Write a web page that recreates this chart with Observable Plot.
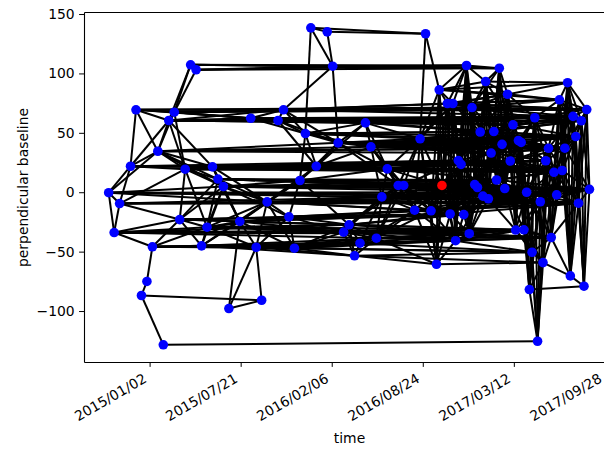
<!DOCTYPE html>
<html>
<head>
<meta charset="utf-8">
<script src="https://cdn.jsdelivr.net/npm/d3@7"></script>
<script src="https://cdn.jsdelivr.net/npm/@observablehq/plot@0.6"></script>
<style>
  html, body { margin: 0; padding: 0; background: #ffffff; }
  #chart { width: 604px; height: 449px; overflow: hidden; }
</style>
</head>
<body>
<div id="chart"></div>
<script>
// Acquisition dates (time order)
const dates = [
"2014-10-03","2014-10-15","2014-10-27","2014-11-20","2014-12-02","2014-12-14","2014-12-26","2015-01-07","2015-01-19","2015-01-31",
"2015-02-12","2015-02-24","2015-03-08","2015-03-20","2015-04-01","2015-04-13","2015-04-25","2015-05-07","2015-05-19","2015-05-31",
"2015-06-12","2015-06-24","2015-07-18","2015-08-11","2015-08-23","2015-09-04","2015-09-16","2015-10-10","2015-10-22","2015-11-03",
"2015-11-15","2015-11-27","2015-12-09","2015-12-21","2016-01-02","2016-01-26","2016-02-07","2016-02-19","2016-03-02","2016-03-14",
"2016-03-26","2016-04-07","2016-04-19","2016-05-01","2016-05-13","2016-05-25","2016-06-06","2016-06-30","2016-07-12","2016-08-05",
"2016-08-17","2016-08-29","2016-09-10","2016-09-22","2016-09-28","2016-10-04","2016-10-16","2016-10-22","2016-10-28","2016-11-03",
"2016-11-09","2016-11-15","2016-11-21","2016-11-27","2016-12-03","2016-12-09","2016-12-15","2016-12-21","2016-12-27","2017-01-02",
"2017-01-08","2017-01-14","2017-01-20","2017-01-26","2017-02-01","2017-02-07","2017-02-13","2017-02-19","2017-02-25","2017-03-03",
"2017-03-09","2017-03-15","2017-03-21","2017-03-27","2017-04-02","2017-04-08","2017-04-14","2017-04-20","2017-04-26","2017-05-02",
"2017-05-08","2017-05-14","2017-05-20","2017-05-26","2017-06-01","2017-06-07","2017-06-13","2017-06-19","2017-06-25","2017-07-01",
"2017-07-07","2017-07-13","2017-07-19","2017-07-25","2017-07-31","2017-08-06","2017-08-12","2017-08-18","2017-08-24"
];

// Perpendicular baseline of each acquisition (m)
const bperp = [
0.0,-33.5,-9.1,22.3,69.8,-86.5,-74.7,-45.5,34.9,-128.0,
60.8,67.8,-22.6,19.8,107.7,103.5,-44.7,-29.0,21.8,11.5,
5.2,-97.5,-24.2,62.7,-45.9,-90.5,-7.7,60.8,69.8,-20.3,
-46.7,10.3,49.8,138.8,22.3,135.4,106.5,42.0,-33.2,-27.0,
-53.1,-42.5,58.8,38.6,-38.3,-3.5,20.1,6.1,6.1,-14.7,
45.4,133.8,-15.2,-60.2,86.6,6.1,75.1,-17.9,75.1,-40.4,
27.1,23.9,-18.4,107.1,-34.5,71.7,6.9,4.4,51.1,-2.9,
93.6,-5.1,33.4,51.5,10.7,104.8,40.7,3.5,82.9,26.7,
57.2,-31.4,43.9,42.3,-31.2,0.4,-81.5,-50.1,63.1,-125.0,
-7.6,-58.8,26.9,37.4,-37.7,17.2,-1.8,78.2,18.7,37.5,
92.6,-70.0,64.3,47.3,-8.8,60.6,-78.7,70.0,2.9
];

// Reference (master) acquisition drawn in red
const masterDate = "2016-10-04";

// Interferogram pairs: for acquisition i, the later acquisitions it is paired with
const links = [
[1,2,3,8,20,26,45,69,85,96],
[2,7,12,17,38,39,44,64,81,84],
[3,12,13,26,45,90,104],
[4,8,10,13,18,34,46,60,61],
[8,10,11,23,28,65,107],
[6,9,25],
[7],
[12,16,17,24,30,41,59],
[10,11,13,18,19,20,37,43,72,93,99],
[89],
[11,13,14,18,23,27,28,42,80,88,105],
[13,14,15,23,27,28,65,107],
[13,16,17,19,20,22,29,39,57,62],
[17,18,19,20,34,46,61,95,98],
[15,36,63,75],
[36,63,75],
[17,20,22,24,26,30,40,41,44,59],
[19,20,22,24,26,29,38,39,64,81,84],
[19,20,22,26,34,46,60,61,79,98],
[20,22,26,31,47,48,55,66,74],
[22,26,29,31,47,48,55,66,67,74,77,85,108],
[22,24,25],
[24,26,29,30,31,38,39,57,62],
[27,28,32,42,80,88,102,105],
[25,26,29,30,40,41,44,59,87],
[],
[29,30,31,34,45,49,52,69,71,90,104],
[28,32,34,37,42,80,88,102,105],
[32,36,37,56,58,65,102,107],
[30,31,38,39,49,52,57,62],
[38,39,40,41,44,59,87],
[32,34,37,39,46,47,48,55,66,67,74,77],
[33,34,37,42,43,50,68,73,82,103],
[35,36,51],
[37,42,43,46,60,61,79,92,95,98],
[36,51],
[37,63,75],
[42,43,46,47,50,72,76,82,83,93,99,103],
[39,40,41,44,45,59,64,81,84,94],
[40,41,44,45,47,48,57,62,64,81,84],
[41,44,53,87,91],
[44,45,49,59,64,87,94],
[43,46,50,68,73,80,88,102,105],
[45,46,47,48,50,72,76,82,83,93,99],
[45,47,48,49,52,53,59,64,81,84,94],
[46,47,48,49,52,55,67,69,71,77,85,90,96,104,108],
[47,48,49,50,52,55,60,61,74,79,92,95,98],
[48,49,50,52,55,57,66,67,69,74,77,85,96,108],
[49,50,52,55,57,60,66,67,69,74,77,85,96,108],
[50,52,53,55,57,59,62,71,90,104],
[51,52,53,54,55,56,58,60,68,73,76,82,83,93,99,103],
[54],
[53,54,55,56,57,59,61,62,71,90,104],
[54,55,56,57,59,91],
[55,56,57,58,63,70,78,97,100],
[56,57,58,59,60,61,62,66,67,69,74,77,85,96,108],
[57,58,59,60,63,65,78,97,107],
[58,59,60,61,62,64,66,67,104],
[59,60,61,62,63,65,68,78,97,107],
[60,61,62,63,64,69,81,84,87,94],
[61,62,63,64,66,67,68,69,72,79,92,95,98],
[62,63,64,65,66,67,68,69,71,72,79,92,95,98],
[63,64,65,66,67,69,71],
[64,65,66,67,70,75],
[65,66,67,68,69,71,81,84,94],
[66,67,68,69,70,72,73,75,78,88,97,102,107],
[67,68,69,70,71,72,74,76,77,85,96,108],
[68,69,70,71,72,74,76,77,85,96,108],
[69,70,71,72,73,76,78,80,82,83,103,105],
[70,71,72,73,74,77,79,85,90,96,104,108],
[71,72,73,74,75,78,80,100],
[72,73,74,75,77,79,81,85,90,96,104,108],
[73,74,75,76,77,79,80,82,83,92,93,99],
[74,75,76,77,78,79,80,82,83,103,105],
[75,76,77,78,79,82,83,85,95,98,108],
[76,77,78,79],
[77,78,79,80,82,83,93,99,103],
[78,79,80,81,84,85,90,96,108],
[79,80,81,82,88,97,100],
[80,81,82,83,85,88,92,93,95,98,99],
[81,82,83,84,88,102,103,105],
[82,83,84,85,87,90,91,94],
[83,84,85,86,88,92,93,99,103],
[84,85,86,87,88,92,93,99,103],
[85,86,87,88,90,91,94],
[86,87,88,89,90,92,93,94,95,96,104,108],
[87,88,89,90,91,106],
[88,89,90,91,94],
[89,90,91,92,93,97,102,105,107],
[90,91,92,93],
[91,92,93,94,95,96,98,104,108],
[92,93,94,95,101],
[93,94,95,96,98,99,102],
[94,95,96,97,98,99,102,103],
[95,96,97,98,101,104],
[96,97,98,99,103,104],
[97,98,99,100,104,108],
[98,99,100,101,102,103,105,107],
[99,100,101,102,103,104,108],
[100,101,102,103,105,107,108],
[101,102,103,104,105,107],
[102,103,104,105,106],
[103,104,105,106,107],
[104,105,106,107],
[105,106,107,108],
[106,107,108],
[107,108],
[108],
[]
];

// Axis ticks and labels
const xTicks = ["2015-01-02","2015-07-21","2016-02-06","2016-08-24","2017-03-12","2017-09-28"];
const yTicks = [-100, -50, 0, 50, 100, 150];
const xLabel = "time";
const yLabel = "perpendicular baseline";

// ---- build ----
const parse = d3.utcParse("%Y-%m-%d");
const times = dates.map(parse);
const idx = d3.range(dates.length);
const edges = links.flatMap((js, i) => js.map(j => [i, j]));
const fmt = d3.utcFormat("%Y/%m/%d");

const W = 604, H = 449, mL = 84, mT = 12, mB = 87;

const chart = Plot.plot({
  width: W,
  height: H,
  marginLeft: mL,
  marginRight: 0,
  marginTop: mT,
  marginBottom: mB,
  style: {fontFamily: "DejaVu Sans", fontSize: "13.9px", color: "black", background: "white"},
  x: {type: "utc", domain: [parse("2014-08-12"), parse("2017-10-18")], range: [84.5, 614]},
  y: {domain: [-142.9, 151.7]},
  marks: [
    Plot.link(edges, {
      x1: ([i]) => times[i], y1: ([i]) => bperp[i],
      x2: ([, j]) => times[j], y2: ([, j]) => bperp[j],
      stroke: "black", strokeWidth: 2
    }),
    Plot.dot(idx.filter(i => dates[i] !== masterDate), {
      x: i => times[i], y: i => bperp[i], r: 4.8, fill: "#0000ff"
    }),
    Plot.dot(idx.filter(i => dates[i] === masterDate), {
      x: i => times[i], y: i => bperp[i], r: 4.8, fill: "#ff0000"
    }),
    Plot.axisY({ticks: yTicks, tickSize: 4.9, tickPadding: 4.9, tickFormat: d3.format("d"), label: null}),
    Plot.axisX({ticks: xTicks.map(parse), tickSize: 4.9, tickFormat: () => "", label: null}),
    Plot.text(xTicks.map(parse), {
      x: d => d, frameAnchor: "bottom", text: d => fmt(d),
      rotate: -30, textAnchor: "end", lineAnchor: "top", dx: -7.5, dy: 10.4, fill: "black"
    }),
    Plot.text([xLabel], {frameAnchor: "bottom-left", dx: 265, dy: 76, lineAnchor: "middle", textAnchor: "middle", fill: "black"}),
    Plot.text([yLabel], {frameAnchor: "left", dx: -61, rotate: -90, lineAnchor: "middle", textAnchor: "middle", fill: "black"})
  ]
});

document.getElementById("chart").appendChild(chart);

// axes spines (left, top, bottom; right spine lies outside the cropped view)
d3.select(chart).append("path")
  .attr("d", `M${mL + 0.5},${mT + 0.5}V${H - mB + 0.5}M${mL + 0.5},${mT + 0.5}H${W}M${mL + 0.5},${H - mB + 0.5}H${W}`)
  .attr("fill", "none").attr("stroke", "black").attr("stroke-width", 1.1);
</script>
</body>
</html>
